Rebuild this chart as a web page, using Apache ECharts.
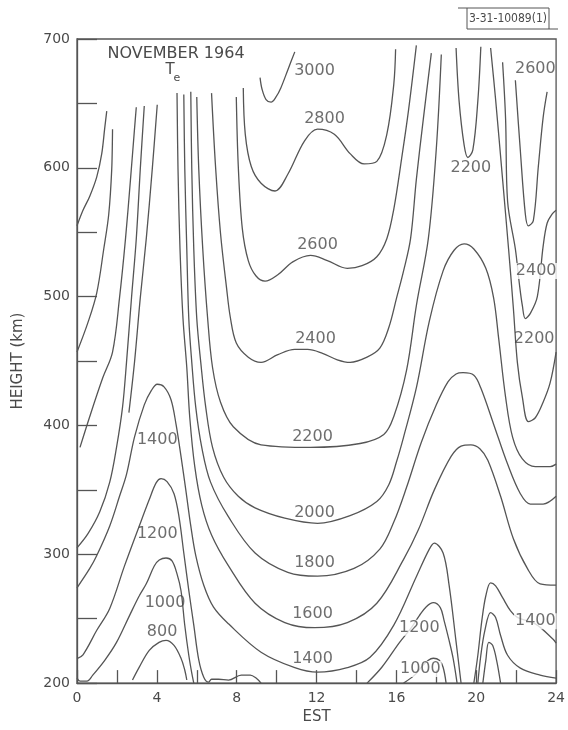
<!DOCTYPE html>
<html><head><meta charset="utf-8">
<script src="https://cdn.jsdelivr.net/npm/echarts@6/dist/echarts.min.js"></script>
<style>html,body{margin:0;padding:0;background:#fff}#c{width:568px;height:730px}</style>
</head><body><div id="c"></div>
<script>
// contour lines of electron temperature Te (K): [EST hour, height km]
const c3000 = [[9.17,670],[9.27,661],[9.47,653],[9.72,651],[9.97,655],[10.21,662],[10.56,676],[10.91,690]];
const c2800 = [[8.33,662],[8.43,626],[8.73,601],[9.22,588],[9.92,582],[10.56,595],[11.40,621],[12.05,630],[12.89,626],[13.68,611],[14.38,603],[15.02,605],[15.52,626],[15.87,665],[15.96,692]];
const c2600 = [[7.98,655],[8.08,601],[8.28,553],[8.58,528],[8.97,516],[9.42,512],[10.06,517],[10.81,527],[11.70,532],[12.54,528],[13.54,522],[14.28,524],[15.02,531],[15.52,545],[15.87,568],[16.26,607],[16.61,645],[17.0,695]];
const c2400 = [[6.74,658],[6.94,601],[7.19,549],[7.49,507],[7.68,484],[7.98,464],[8.58,453],[9.22,449],[10.06,455],[10.91,459],[11.55,459],[12.30,456],[13.04,451],[13.68,449],[14.53,453],[15.17,460],[15.62,476],[16.01,499],[16.36,520],[16.71,545],[17.0,591],[17.35,638],[17.75,689]];
const c2200 = [[6.0,655],[6.10,599],[6.30,537],[6.54,484],[6.79,445],[7.19,418],[7.83,399],[9.22,385],[11.70,383],[14.18,386],[15.37,393],[15.87,407],[16.51,443],[17.01,494],[17.60,545],[18.0,615],[18.25,688]];
const c2000 = [[5.70,659],[5.75,599],[5.85,537],[6.0,483],[6.20,449],[6.45,414],[6.79,383],[7.34,360],[8.08,345],[8.92,336],[10.41,328],[12.05,324],[13.68,330],[15.02,341],[15.62,354],[16.01,372],[16.36,391],[17.01,430],[17.65,481],[18.34,520],[18.89,536],[19.39,541],[19.88,537],[20.48,522],[20.87,499],[21.12,468],[21.47,422],[21.82,391],[22.31,374],[22.96,368],[23.70,368],[24,370]];
const c1800 = [[5.35,657],[5.40,599],[5.50,537],[5.60,483],[5.75,449],[5.95,414],[6.25,383],[6.69,356],[7.59,329],[8.92,301],[10.56,286],[12.05,283],[13.88,289],[15.17,304],[15.87,325],[16.51,352],[17.25,387],[18.0,416],[18.59,434],[18.99,440],[19.34,441],[19.88,439],[20.23,429],[20.87,401],[21.57,370],[22.21,347],[22.71,339],[23.35,339],[24,345]];
const c1600 = [[5.01,658],[5.06,599],[5.16,537],[5.31,483],[5.50,445],[5.65,406],[5.90,368],[6.25,338],[6.74,315],[7.59,291],[8.92,262],[10.41,247],[11.90,243],[13.54,247],[15.02,262],[16.36,296],[17.10,319],[17.90,350],[18.74,376],[19.24,384],[19.73,385],[20.18,382],[20.58,373],[21.22,345],[21.86,312],[22.56,289],[23.20,277],[24,276]];
const c1400 = [[0,274],[0.64,289],[0.99,299],[1.64,322],[2.13,345],[2.48,362],[2.88,391],[3.37,416],[3.72,427],[4.02,432],[4.36,430],[4.71,420],[4.96,401],[5.21,376],[5.45,350],[5.70,322],[5.95,299],[6.35,276],[6.84,259],[7.59,246],[9.22,224],[10.91,212],[12.05,208.5],[13.54,212],[14.68,220],[15.87,245],[17.01,283],[17.65,304],[17.90,308.6],[18.34,301],[18.64,276],[18.99,232],[19.24,200]];
const c1200 = [[0,219],[0.30,222],[0.99,241],[1.64,258],[2.38,291],[3.12,322],[3.62,342.5],[3.97,355.6],[4.21,358.7],[4.51,356.4],[4.86,347],[5.11,329],[5.35,301],[5.60,272],[5.85,245],[6.10,218],[6.35,204.6],[6.59,200.8],[6.74,203],[7.09,203],[7.59,202.3],[8.23,206.2],[8.68,206.2],[8.97,203.9],[9.22,200]];
const c1000 = [[0,203.9],[0.15,201.6],[0.50,201.6],[0.79,206.2],[1.39,217.7],[1.98,231.6],[2.63,252.4],[3.12,267.8],[3.47,277.1],[3.87,290.9],[4.12,295.5],[4.46,297.1],[4.76,294.8],[5.01,284.8],[5.21,271.7],[5.40,244.7],[5.60,221.6],[5.75,207.7],[5.85,200]];
const c800 = [[2.78,202.4],[3.12,212.4],[3.62,225.4],[4.11,231.6],[4.46,233.2],[4.86,229.3],[5.21,219.3],[5.40,210],[5.50,202.4]];
const cA = [[0,555],[0.3,567],[0.64,578],[0.99,593],[1.24,611],[1.39,631],[1.49,644]];
const cB = [[0,457],[0.55,480],[0.99,503],[1.34,537],[1.59,564],[1.74,599],[1.78,630]];
const cF = [[0.15,383],[0.64,407],[1.29,437],[1.78,457],[2.13,499],[2.43,545],[2.68,591],[2.88,630],[2.97,647]];
const cG = [[0,305],[0.55,316],[1.14,333],[1.64,356],[1.98,383],[2.28,414],[2.48,449],[2.73,499],[2.97,545],[3.17,599],[3.37,648]];
const cH = [[2.6,410],[2.88,449],[3.17,499],[3.47,545],[3.77,599],[4.02,649]];
const cTop2200 = [[18.99,693],[19.14,652],[19.39,618],[19.58,608],[19.83,614],[20.08,652],[20.23,694]];
const cR2200 = [[20.72,693],[20.97,653],[21.32,591],[21.62,537],[21.86,491],[22.06,449],[22.31,422],[22.61,403],[22.96,406],[23.35,418],[23.70,433],[24,457]];
const cR2400 = [[21.32,682],[21.47,638],[21.57,574],[21.96,537],[22.16,510],[22.31,493],[22.46,483],[22.71,487],[23.06,500],[23.35,539],[23.55,557],[23.80,564],[24,567]];
const cR2600 = [[21.96,668],[22.21,613],[22.46,564],[22.61,555],[22.86,559],[23.11,601],[23.35,639],[23.55,659]];
const c1200b = [[14.53,200],[15.27,212.3],[16.16,231.6],[16.76,243.2],[17.15,252.4],[17.50,259.3],[17.85,262.4],[18.20,258.6],[18.39,248.5],[18.64,233.1],[18.84,219.3],[19.04,200]];
const c1000b = [[16.36,200],[16.91,206.2],[17.25,212.3],[17.60,217.7],[17.85,219.3],[18.15,217.7],[18.34,212.3],[18.49,200]];
const c1400c = [[19.88,200],[20.08,221.6],[20.28,248.5],[20.48,267.8],[20.72,277.8],[20.97,275.5],[21.32,266.3],[21.72,256],[22.06,251],[22.96,246],[23.85,234],[24,231]];
const c1200c = [[20.08,200],[20.23,221.6],[20.43,240.8],[20.72,254.7],[20.97,250.9],[21.22,237.0],[21.57,221.6],[22.21,211.6],[23.20,206.2],[24,203.9]];
const c1000c = [[20.33,200],[20.48,217.7],[20.63,231.6],[20.82,229.3],[21.02,217.7],[21.22,200]];

// contour value labels: [hour, km, text]
const plainLabels = [[11.90,675,'3000'],[12.40,638,'2800'],[12.05,540,'2600'],[11.95,467,'2400'],[11.80,391,'2200'],[11.90,332,'2000'],[11.90,293,'1800'],[11.80,254,'1600'],[11.80,219,'1400'],
  [4.02,389,'1400'],[4.02,316,'1200'],[4.41,262,'1000'],[4.26,240,'800'],
  [19.73,600,'2200'],[22.96,677,'2600'],[22.9,467,'2200']];
const inlineLabels = [[23.0,520,'2400'],[22.96,248,'1400'],[17.15,243,'1200'],[17.2,211,'1000']];

const xTickStep = 2, xLabelStep = 4, yTickStep = 50, yLabelStep = 100;

const contours = [c3000,c2800,c2600,c2400,c2200,c2000,c1800,c1600,c1400,c1200,c1000,c800,cA,cB,cF,cG,cH,cTop2200,cR2200,cR2400,cR2600,c1200b,c1000b,c1400c,c1200c,c1000c];

const ink = '#555';
const txt = '#4a4a4a';
const font = 'DejaVu Sans';
const series = contours.map(d => ({type:'line', data:d, showSymbol:false, smooth:0.35, silent:true, lineStyle:{color:ink, width:1.3}, z:2}));
series.push({type:'scatter', data:plainLabels, symbolSize:1, itemStyle:{color:'rgba(0,0,0,0)'}, silent:true, z:5,
  label:{show:true, position:'inside', formatter:p=>p.data[2], fontFamily:font, fontSize:16, color:txt}});
series.push({type:'scatter', data:inlineLabels, symbolSize:1, itemStyle:{color:'rgba(0,0,0,0)'}, silent:true, z:6,
  label:{show:true, position:'inside', formatter:p=>p.data[2], fontFamily:font, fontSize:16, color:txt, backgroundColor:'#fff', padding:[0,1]}});

const chart = echarts.init(document.getElementById('c'));
chart.setOption({
  animation:false,
  backgroundColor:'#fff',
  grid:{left:77, right:4, top:39, bottom:43, show:true, borderColor:ink, borderWidth:1.3},
  xAxis:{type:'value', min:0, max:24, interval:xTickStep,
    axisLine:{lineStyle:{color:ink, width:1.3}},
    axisTick:{inside:true, length:13, lineStyle:{color:ink, width:1.3}},
    axisLabel:{formatter:v=> v % xLabelStep === 0 ? String(v) : '', fontFamily:font, fontSize:14, color:txt, margin:8},
    splitLine:{show:false},
    name:'EST', nameLocation:'middle', nameGap:26, nameTextStyle:{fontFamily:font, fontSize:15, color:txt}},
  yAxis:{type:'value', min:200, max:700, interval:yTickStep,
    axisLine:{lineStyle:{color:ink, width:1.3}},
    axisTick:{inside:true, length:20, lineStyle:{color:ink, width:1.3}},
    axisLabel:{formatter:v=> v % yLabelStep === 0 ? String(v) : '', fontFamily:font, fontSize:14, color:txt, margin:7},
    splitLine:{show:false},
    name:'HEIGHT (km)', nameLocation:'middle', nameGap:51, nameTextStyle:{fontFamily:font, fontSize:15, color:txt}},
  graphic:[
    {type:'text', x:176, y:54, style:{text:'NOVEMBER 1964', font:'16px "DejaVu Sans"', fill:txt, align:'center', verticalAlign:'middle'}},
    {type:'text', x:170, y:70, style:{text:'T', font:'15px "DejaVu Sans"', fill:txt, align:'center', verticalAlign:'middle'}},
    {type:'text', x:177, y:78, style:{text:'e', font:'11px "DejaVu Sans"', fill:txt, align:'center', verticalAlign:'middle'}},
    {type:'polyline', shape:{points:[[458,8],[549,8],[549,29]]}, style:{stroke:ink, lineWidth:1, fill:null}},
    {type:'polyline', shape:{points:[[467,8],[467,29],[558,29]]}, style:{stroke:ink, lineWidth:1, fill:null}},
    {type:'text', x:508, y:19, style:{text:'3-31-10089(1)', font:'12px "DejaVu Sans Condensed"', fill:txt, align:'center', verticalAlign:'middle'}}
  ],
  series
});
</script>
</body></html>
